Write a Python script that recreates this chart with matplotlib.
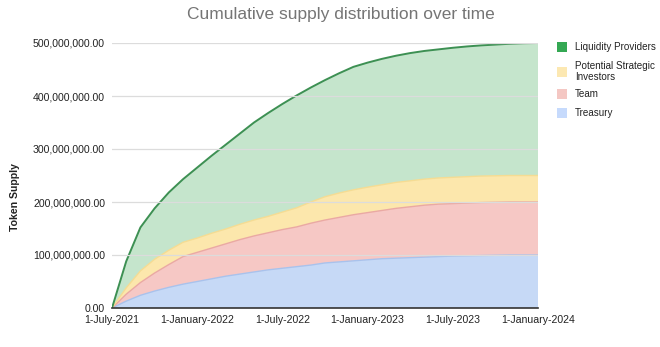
import matplotlib
matplotlib.use("Agg")
import matplotlib.pyplot as plt
from matplotlib.patches import Rectangle
import numpy as np

plt.rcParams['font.family'] = ['Liberation Sans', 'DejaVu Sans']

# monthly points, 1-July-2021 .. 1-January-2024 (values in millions of tokens)
tick_labels = ["1-July-2021", "1-January-2022", "1-July-2022",
               "1-January-2023", "1-July-2023", "1-January-2024"]
series_names = ["Treasury", "Team", "Potential Strategic\nInvestors", "Liquidity Providers"]

treasury = [0, 13, 24, 32, 39, 45, 50, 55, 60, 64, 68, 72, 75, 78, 81, 85, 87, 89, 91, 93,
            94, 95, 96, 97, 98, 98.5, 99, 99.5, 100, 100, 100]
team = [0, 13, 24, 34, 43, 52, 55, 58, 61, 65, 68, 70, 73, 75, 79, 81, 84, 87, 89, 91,
        94, 96, 98, 99, 99, 99.5, 100, 100, 100, 100, 100]
investors = [0, 12, 22, 26, 27, 27, 27, 28, 28, 29, 30, 31, 33, 36, 40, 44, 46, 47, 48, 48.5,
             49, 49, 49.2, 49.4, 49.6, 49.8, 50, 50, 50, 50, 50]
liquidity = [0, 50, 82, 96, 109, 119, 133, 146, 159, 171, 184, 195, 204, 212, 216, 220, 226,
             232, 235, 237.5, 239, 241, 241.8, 242.6, 244.4, 245.7, 246.5, 247.5, 248.5, 249.5, 250]

fill_colors = ["#c6d9f6", "#f6c8c5", "#fce7ac", "#c5e5cc"]
line_colors = ["#a9c2ec", "#eaa9a3", "#f5dc93", "#3d9053"]
legend_colors = ["#c6dafc", "#f4c7c3", "#fce8b2", "#34a853"]

fig = plt.figure(figsize=(6.6, 3.47), dpi=100)
ax = fig.add_axes([112/660, 1-308/347, (538-112)/660, (308-43)/347])

x = np.arange(len(treasury))
data = np.array([treasury, team, investors, liquidity]) * 1e6
ax.stackplot(x, data, colors=fill_colors, linewidth=0)
cum = np.cumsum(data, axis=0)
for i in range(4):
    ax.plot(x, cum[i], color=line_colors[i], lw=1.4 if i == 3 else 1.0)

ax.set_xlim(0, 30)
ax.set_ylim(0, 500e6)
ax.set_xticks(np.arange(0, 31, 6))
ax.set_xticklabels(tick_labels, fontsize=7.6, color="#222222")
yt = np.arange(0, 500e6 + 1, 100e6)
ax.set_yticks(yt)
ax.set_yticklabels([f"{v:,.2f}" for v in yt], fontsize=7.6, color="#222222")
ax.tick_params(axis='x', length=0, pad=5)
ax.tick_params(axis='y', length=0, pad=5)
ax.grid(axis='y', color="#dcdcdc", lw=0.9)
ax.set_axisbelow(False)
for s in ["top", "right", "left"]:
    ax.spines[s].set_visible(False)
ax.spines["bottom"].set_color("#333333")
ax.spines["bottom"].set_linewidth(1.2)
ax.spines["bottom"].set_zorder(5)

ax.set_ylabel("Token Supply", fontsize=7.6, fontweight="bold", color="#222222", labelpad=0)
ax.yaxis.set_label_coords(-0.215, 0.42)

fig.text(341/660, 1-14/347, "Cumulative supply distribution over time",
         ha="center", va="center", fontsize=12.5, color="#757575")

# legend (top to bottom)
order = [3, 2, 1, 0]
ys = [46.5, 71.5, 94, 113]
for i, yc in zip(order, ys):
    fig.patches.append(Rectangle((557/660, 1-(yc+5)/347), 10/660, 10/347,
                                 transform=fig.transFigure, facecolor=legend_colors[i],
                                 edgecolor="none"))
    fig.text(575/660, 1-yc/347, series_names[i], ha="left", va="center",
             fontsize=7.1, color="#222222", linespacing=1.05)

fig.savefig("out.png", dpi=100)
